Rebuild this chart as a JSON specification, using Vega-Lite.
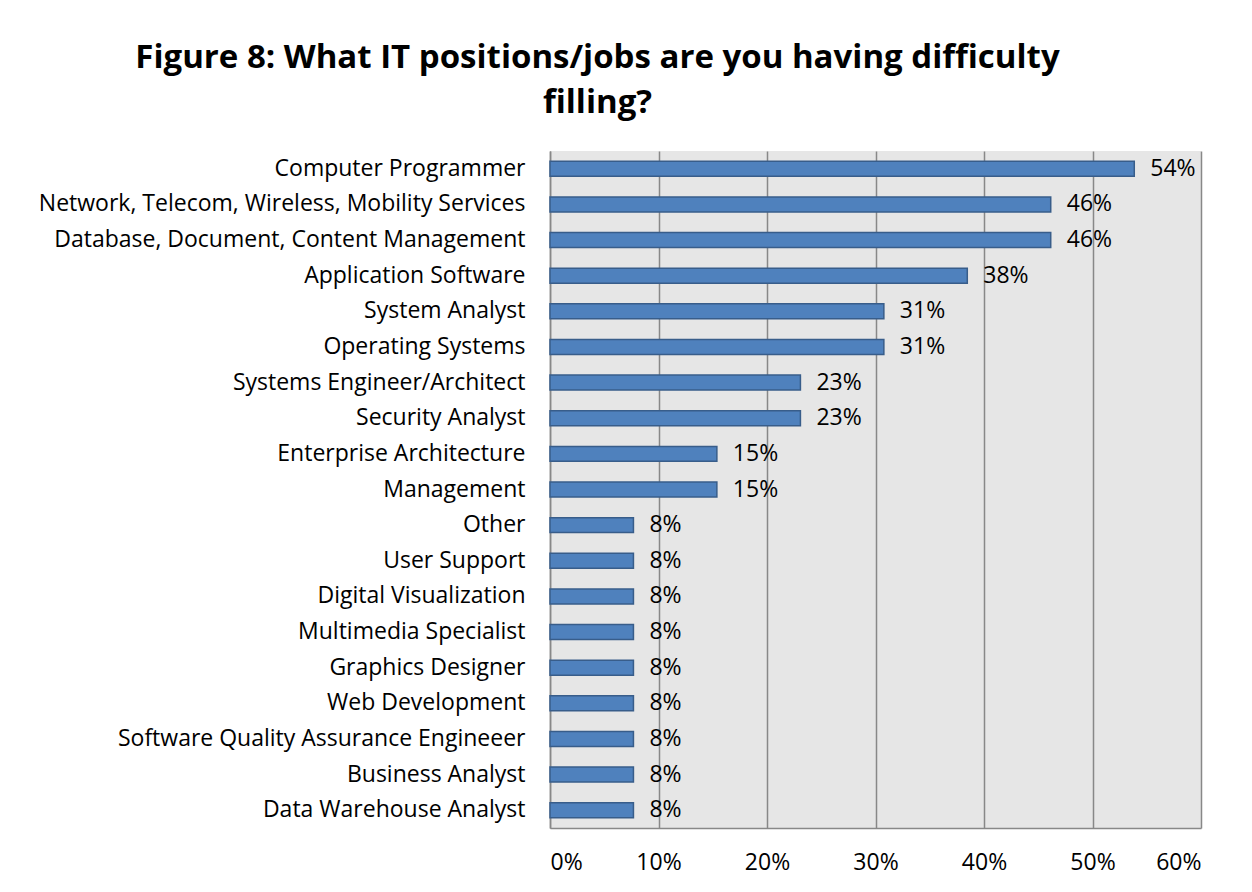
{
  "$schema": "https://vega.github.io/schema/vega-lite/v6.json",
  "width": 651,
  "height": 677,
  "autosize": {"type": "none"},
  "padding": {"left": 550, "top": 151, "right": 51, "bottom": 64},
  "background": "white",
  "title": {
    "text": ["Figure 8: What IT positions/jobs are you having difficulty", "\u2003\u2002filling?"],
    "font": "Open Sans",
    "fontSize": 33,
    "fontWeight": "bold",
    "color": "black",
    "anchor": "middle",
    "frame": "group",
    "dx": -278,
    "offset": 31,
    "lineHeight": 45
  },
  "config": {
    "view": {"fill": "#e6e6e6", "stroke": null},
    "font": "Open Sans"
  },
  "data": {
    "values": [
      {"job": "Computer Programmer", "pct": 0.5385},
      {"job": "Network, Telecom, Wireless, Mobility Services", "pct": 0.4615},
      {"job": "Database, Document, Content Management", "pct": 0.4615},
      {"job": "Application Software\u2005", "pct": 0.3846},
      {"job": "System Analyst\u2005", "pct": 0.3077},
      {"job": "Operating Systems\u2005", "pct": 0.3077},
      {"job": "Systems Engineer/Architect\u2005", "pct": 0.2308},
      {"job": "Security Analyst\u2005", "pct": 0.2308},
      {"job": "Enterprise Architecture", "pct": 0.1538},
      {"job": "Management\u2005", "pct": 0.1538},
      {"job": "Other", "pct": 0.0769},
      {"job": "User Support\u2005", "pct": 0.0769},
      {"job": "Digital Visualization", "pct": 0.0769},
      {"job": "Multimedia Specialist\u2005", "pct": 0.0769},
      {"job": "Graphics Designer\u2005", "pct": 0.0769},
      {"job": "Web Development\u2005", "pct": 0.0769},
      {"job": "Software Quality Assurance Engineeer\u2005", "pct": 0.0769},
      {"job": "Business Analyst\u2005", "pct": 0.0769},
      {"job": "Data Warehouse Analyst\u2005", "pct": 0.0769}
    ]
  },
  "encoding": {
    "y": {
      "field": "job",
      "type": "nominal",
      "sort": null,
      "scale": {"paddingInner": 0.58, "paddingOuter": 0.29},
      "axis": {
        "title": null,
        "ticks": false,
        "grid": false,
        "domain": true,
        "domainColor": "#888888",
        "domainWidth": 1.5,
        "labelFont": "Open Sans",
        "labelFontSize": 23,
        "labelColor": "black",
        "labelPadding": 25,
        "labelLimit": 0
      }
    }
  },
  "layer": [
    {
      "mark": {"type": "bar", "fill": "#4f81bd", "stroke": "#385d8a", "strokeWidth": 1.5},
      "encoding": {
        "x": {
          "field": "pct",
          "type": "quantitative",
          "scale": {"domain": [0, 0.6], "nice": false},
          "axis": {
            "title": null,
            "format": ".0%",
            "values": [0, 0.1, 0.2, 0.3, 0.4, 0.5, 0.6],
            "ticks": false,
            "grid": true,
            "gridColor": "#888888",
            "gridWidth": 1.5,
            "domain": true,
            "domainColor": "#888888",
            "domainWidth": 1.5,
            "labelFont": "Open Sans",
            "labelFontSize": 23,
            "labelColor": "black",
            "labelPadding": 23
          }
        }
      }
    },
    {
      "mark": {"type": "text", "align": "left", "baseline": "middle", "dx": 16, "font": "Open Sans", "fontSize": 23, "color": "black"},
      "encoding": {
        "x": {"field": "pct", "type": "quantitative"},
        "text": {"field": "pct", "type": "quantitative", "format": ".0%"}
      }
    }
  ]
}
